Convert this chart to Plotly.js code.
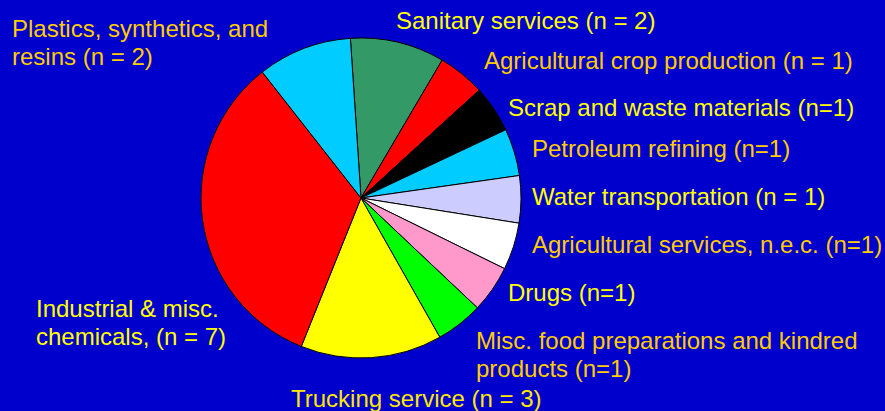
<!DOCTYPE html>
<html>
<head>
<meta charset="utf-8">
<script src="https://cdn.plot.ly/plotly-3.0.1.min.js"></script>
<style>html,body{margin:0;padding:0;background:#0000CC;}#chart{width:885px;height:411px;}</style>
</head>
<body>
<div id="chart"></div>
<script>
// Data (clockwise from top)
const categories = [
  "Sanitary services",
  "Agricultural crop production",
  "Scrap and waste materials",
  "Petroleum refining",
  "Water transportation",
  "Agricultural services, n.e.c.",
  "Drugs",
  "Misc. food preparations and kindred products",
  "Trucking service",
  "Industrial & misc. chemicals",
  "Plastics, synthetics, and resins"
];
const counts = [2, 1, 1, 1, 1, 1, 1, 1, 3, 7, 2];
const sliceColors = ["#339966", "#FF0000", "#000000", "#00CCFF", "#CCCCFF", "#FFFFFF",
                     "#FF99CC", "#00FF00", "#FFFF00", "#FF0000", "#00CCFF"];
const labelTexts = [
  "Sanitary services (n = 2)",
  "Agricultural crop production (n = 1)",
  "Scrap and waste materials (n=1)",
  "Petroleum refining (n=1)",
  "Water transportation (n = 1)",
  "Agricultural services, n.e.c. (n=1)",
  "Drugs (n=1)",
  "Misc. food preparations and kindred<br>products (n=1)",
  "Trucking service (n = 3)",
  "Industrial & misc.<br>chemicals, (n = 7)",
  "Plastics, synthetics, and<br>resins (n = 2)"
];
const labelColors = ["#FFFF00", "#FFCC00", "#FFFF00", "#FFCC00", "#FFFF00", "#FFCC00",
                     "#FFFF00", "#FFCC00", "#FFE800", "#FFFF00", "#FFCC00"];
// label anchor positions in pixels (left x, middle y)
const labelX = [394, 482, 506, 530, 530, 530, 506, 474, 289, 34, 10];
const labelY = [20, 60, 107, 148, 196, 244, 292, 354, 398, 322, 42];

const W = 885, H = 411;
const cx = 361, cy = 198, r = 160;
const lineGap = 28;

const trace = {
  type: "pie",
  labels: categories,
  values: counts,
  sort: false,
  direction: "clockwise",
  rotation: -3.8,
  marker: {colors: sliceColors, line: {color: "#000000", width: 1}},
  textinfo: "none",
  hoverinfo: "label+value",
  showlegend: false,
  domain: {x: [(cx - r) / W, (cx + r) / W], y: [(H - cy - r) / H, (H - cy + r) / H]}
};

const annotations = [];
labelTexts.forEach((t, i) => {
  const lines = t.split("<br>");
  lines.forEach((ln, j) => {
    const py = labelY[i] + (j - (lines.length - 1) / 2) * lineGap;
    annotations.push({
      text: ln,
      xref: "paper", yref: "paper",
      x: labelX[i] / W, y: 1 - py / H,
      xanchor: "left", yanchor: "middle", align: "left",
      showarrow: false,
      font: {family: "Liberation Sans, Arial, sans-serif", size: 24, color: labelColors[i]}
    });
  });
});

const layout = {
  width: W, height: H,
  margin: {l: 0, r: 0, t: 0, b: 0},
  paper_bgcolor: "#0000CC",
  plot_bgcolor: "#0000CC",
  showlegend: false,
  annotations: annotations,
  font: {family: "Liberation Sans, Arial, sans-serif"}
};

Plotly.newPlot("chart", [trace], layout, {displayModeBar: false, staticPlot: true});
</script>
</body>
</html>
